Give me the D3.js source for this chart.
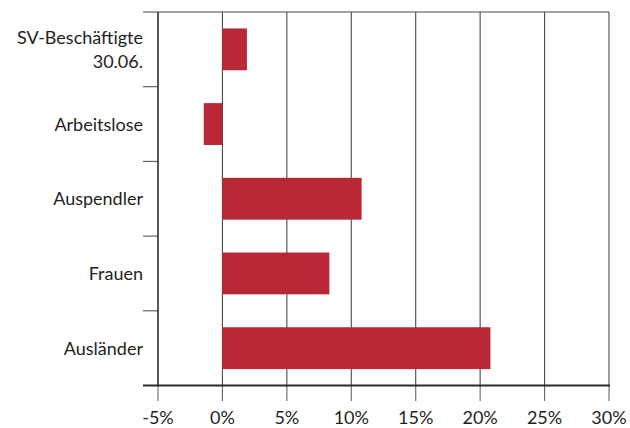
<!DOCTYPE html>
<html>
<head>
<meta charset="utf-8">
<script src="https://cdn.jsdelivr.net/npm/d3@7"></script>
<style>
  html, body { margin: 0; padding: 0; background: #fff; }
  svg text { font-family: Lato, "Liberation Sans", sans-serif; fill: #231f20; }
</style>
</head>
<body>
<svg id="chart" width="630" height="428"></svg>
<script>
// Categories (top to bottom) and change in percent
const categories = ["SV-Beschäftigte|30.06.", "Arbeitslose", "Auspendler", "Frauen", "Ausländer"];
const values = [1.9, -1.45, 10.8, 8.3, 20.8];
const xTicks = [-5, 0, 5, 10, 15, 20, 25, 30];
const xTickLabels = ["-5%", "0%", "5%", "10%", "15%", "20%", "25%", "30%"];

const svg = d3.select("#chart");
const plotLeft = 158, plotRight = 609, plotTop = 12, plotBottom = 385.5;

const x = d3.scaleLinear().domain([-5, 30]).range([plotLeft, plotRight]);
const y = d3.scaleBand().domain(categories).range([plotTop, plotBottom])
  .paddingInner(0.44).paddingOuter(0.22);
const step = y.step();

// vertical grid lines (excluding the left axis)
svg.append("g").selectAll("line")
  .data(xTicks.slice(1))
  .join("line")
  .attr("x1", d => x(d)).attr("x2", d => x(d))
  .attr("y1", plotTop).attr("y2", plotBottom)
  .attr("stroke", "#4a4a4a").attr("stroke-width", 1.1);

// top line
svg.append("line")
  .attr("x1", 143).attr("x2", plotRight).attr("y1", plotTop).attr("y2", plotTop)
  .attr("stroke", "#4a4a4a").attr("stroke-width", 1.1);

// category separators on the left
const bounds = categories.map(c => y(c) - step * y.paddingInner() / 2).slice(1);
svg.append("g").selectAll("line")
  .data(bounds)
  .join("line")
  .attr("x1", 143).attr("x2", plotLeft)
  .attr("y1", d => d).attr("y2", d => d)
  .attr("stroke", "#555").attr("stroke-width", 1.1);

// bars
svg.append("g").selectAll("rect")
  .data(categories.map((c, i) => ({ c, v: values[i] })))
  .join("rect")
  .attr("x", d => x(Math.min(0, d.v)))
  .attr("width", d => Math.abs(x(d.v) - x(0)))
  .attr("y", d => y(d.c))
  .attr("height", y.bandwidth())
  .attr("fill", "#b82837");

// x axis ticks below baseline
svg.append("g").selectAll("line")
  .data(xTicks)
  .join("line")
  .attr("x1", d => x(d)).attr("x2", d => x(d))
  .attr("y1", plotBottom).attr("y2", 401)
  .attr("stroke", "#666").attr("stroke-width", 1.1);

// y axis line
svg.append("line")
  .attr("x1", plotLeft).attr("x2", plotLeft).attr("y1", plotTop).attr("y2", plotBottom)
  .attr("stroke", "#2b2b2b").attr("stroke-width", 1.6);

// x axis baseline
svg.append("line")
  .attr("x1", 143).attr("x2", plotRight + 1).attr("y1", plotBottom).attr("y2", plotBottom)
  .attr("stroke", "#2b2b2b").attr("stroke-width", 2);

// x tick labels
svg.append("g").selectAll("text")
  .data(xTicks)
  .join("text")
  .attr("x", d => x(d))
  .attr("y", 424)
  .attr("text-anchor", "middle")
  .attr("font-size", 18)
  .text((d, i) => xTickLabels[i]);

// category labels
const lab = svg.append("g").selectAll("text")
  .data(categories)
  .join("text")
  .attr("text-anchor", "end")
  .attr("font-size", 18)
  .attr("y", d => y(d) + y.bandwidth() / 2);

lab.each(function (d) {
  const lines = d.split("|");
  const t = d3.select(this);
  const lh = 24;
  const y0 = -((lines.length - 1) * lh) / 2;
  lines.forEach((s, i) => {
    t.append("tspan")
      .attr("x", 143)
      .attr("dy", i === 0 ? y0 + 6.5 : lh)
      .text(s);
  });
});
</script>
</body>
</html>
